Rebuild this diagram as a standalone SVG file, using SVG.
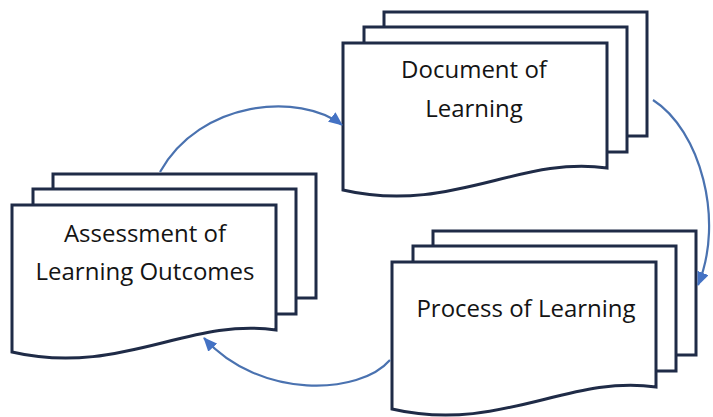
<svg xmlns="http://www.w3.org/2000/svg" width="713" height="417" viewBox="0 0 713 417">
<style>
.pg{fill:#ffffff;stroke:#1f2b47;stroke-width:3;stroke-linejoin:miter}
.lbl{font-family:"Open Sans","Liberation Sans",sans-serif;font-size:24px;fill:#141414;text-anchor:middle}
.conn{fill:none;stroke:#4a72b0;stroke-width:2.2}
</style>
<defs>
<marker id="ah" markerUnits="userSpaceOnUse" markerWidth="14" markerHeight="12" refX="13" refY="6" orient="auto">
<path d="M0,0 L14,6 L0,12 z" fill="#4472c4"/>
</marker>
<g id="stackShape">
<rect class="pg" x="41" y="-31" width="263" height="124"/>
<rect class="pg" x="21" y="-16" width="263" height="125"/>
<path class="pg" d="M0,0 H264 V125 C177,112 107,172 0,147 Z"/>
</g>
</defs>
<rect width="713" height="417" fill="#ffffff"/>
<g id="doc">
<use href="#stackShape" transform="translate(343,43)"/>
<text class="lbl" x="474" y="78">Document of</text>
<text class="lbl" x="474" y="117">Learning</text>
</g>
<g id="assess">
<use href="#stackShape" transform="translate(12,205)"/>
<text class="lbl" x="145" y="242">Assessment of</text>
<text class="lbl" x="145" y="280">Learning Outcomes</text>
</g>
<g id="process">
<use href="#stackShape" transform="translate(392,262)"/>
<text class="lbl" x="526" y="317">Process of Learning</text>
</g>
<g id="connectors">
<path class="conn" d="M160,172 C200,100 300,92 342,125" marker-end="url(#ah)"/>
<path class="conn" d="M653,100 C700,130 725,220 698,285" marker-end="url(#ah)"/>
<path class="conn" d="M390,360 C360,395 260,400 204,338" marker-end="url(#ah)"/>
</g>
</svg>
